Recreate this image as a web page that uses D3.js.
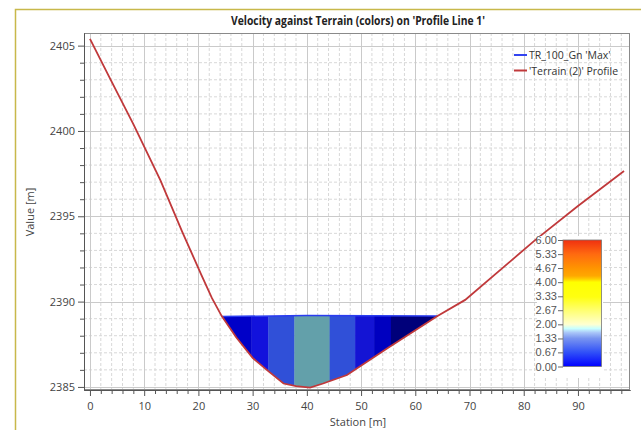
<!DOCTYPE html>
<html><head><meta charset="utf-8">
<script src="https://cdn.jsdelivr.net/npm/d3@7"></script>
<style>body{margin:0;background:#fff}svg{display:block}</style>
</head><body>
<svg id="c" width="641" height="430"></svg>
<script>
// ---- data ----
const title = "Velocity against Terrain (colors) on 'Profile Line 1'";
const xLabel = "Station [m]";
const yLabel = "Value [m]";
const xTicks = [0,10,20,30,40,50,60,70,80,90];
const yTicks = [2385,2390,2395,2400,2405];
const terrainStation = [0,3.5,8,13,17,20.5,22.5,24.3,27,30,33,35.7,38,40.6,43,47.4,55,64.1,69.2,82.1,90,98.5];
const terrainValue  = [2405.4,2403.2,2400.4,2397.1,2394.1,2391.6,2390.2,2389.15,2387.9,2386.7,2385.9,2385.2,2385.05,2384.96,2385.2,2385.7,2387.3,2389.16,2390.1,2393.6,2395.6,2397.65];
const wseStation = [24.3,40,64.1];
const wseValue = [2389.13,2389.18,2389.15];
const stripEdges = [24.3,29.8,32.9,37.7,44.2,48.9,52.4,55.5,64.1];
const stripColors = ["#0000c8","#1212dc","#3050d8","#63a0aa","#3050d8","#1414d4","#0000c0","#00007a"];
const legendNames = ["TR_100_Gn 'Max'","'Terrain (2)' Profile"];
const cbTicks = ["0.00","0.67","1.33","2.00","2.67","3.33","4.00","4.67","5.33","6.00"];
const cbValues = [0,0.67,1.33,2.0,2.67,3.33,4.0,4.67,5.33,6.0];
const cbStops = [[0,"#0000ff"],[0.67,"#3050f8"],[1.33,"#7894f0"],[1.6,"#a8c4f8"],[1.8,"#c8ffff"],[2.0,"#ffffd0"],[2.67,"#ffff70"],[3.3,"#ffff10"],[4.0,"#ffff00"],[4.15,"#ffcc00"],[4.3,"#ffa800"],[4.67,"#ff9400"],[5.33,"#ff6a10"],[6.0,"#f03010"]];

// ---- layout ----
const svg = d3.select("#c");
const L=84, R=630, T=33, B=390;
const x = d3.scaleLinear().domain([-1.1,99.6]).range([L,R]);
const y = d3.scaleLinear().domain([2384.82,2405.74]).range([B,T]);
const font = "'Open Sans', 'Noto Sans', sans-serif";

// outer border
svg.append("rect").attr("x",15.5).attr("y",9.5).attr("width",640).attr("height",430)
  .attr("fill","none").attr("stroke","#c8b84a").attr("stroke-width",1.5);

// title
svg.append("text").attr("x",358).attr("y",25).attr("text-anchor","middle")
  .attr("font-family",font).attr("font-weight","bold").attr("font-size",11.5).attr("fill","#222")
  .attr("textLength",254).attr("lengthAdjust","spacingAndGlyphs").text(title);

// grid
const g = svg.append("g");
const xMinor = d3.range(0,100,2).filter(v=>v%10!==0);
const yMinor = d3.range(2385,2406,1).filter(v=>v%5!==0);
g.selectAll(".xm").data(xMinor).join("line").attr("x1",d=>x(d)).attr("x2",d=>x(d)).attr("y1",T).attr("y2",B)
  .attr("stroke","#d8d8d8").attr("stroke-dasharray","3,2");
g.selectAll(".ym").data(yMinor).join("line").attr("y1",d=>y(d)).attr("y2",d=>y(d)).attr("x1",L).attr("x2",R)
  .attr("stroke","#d8d8d8").attr("stroke-dasharray","3,2");
g.selectAll(".xM").data(xTicks).join("line").attr("x1",d=>Math.round(x(d))+0.5).attr("x2",d=>Math.round(x(d))+0.5).attr("y1",T).attr("y2",B)
  .attr("stroke","#cacaca");
g.selectAll(".yM").data(yTicks).join("line").attr("y1",d=>Math.round(y(d))+0.5).attr("y2",d=>Math.round(y(d))+0.5).attr("x1",L).attr("x2",R)
  .attr("stroke","#cacaca");

// water strips
const terrain = terrainStation.map((s,i)=>[s,terrainValue[i]]);
const wse = wseStation.map((s,i)=>[s,wseValue[i]]);
const s0 = stripEdges[0], s1 = stripEdges[stripEdges.length-1];
const bottom = terrain.filter(p=>p[0]>=s0 && p[0]<=s1);
const poly = wse.concat(bottom.slice().reverse());
const defs = svg.append("defs");
defs.append("clipPath").attr("id","wclip").append("path")
  .attr("d", d3.line().x(d=>x(d[0])).y(d=>y(d[1]))(poly)+"Z");
const strips = d3.range(stripColors.length).map(i=>({a:stripEdges[i],b:stripEdges[i+1],c:stripColors[i]}));
svg.append("g").attr("clip-path","url(#wclip)").selectAll("rect").data(strips).join("rect")
  .attr("x",d=>x(d.a)).attr("width",d=>x(d.b)-x(d.a)+0.3).attr("y",T).attr("height",B-T)
  .attr("fill",d=>d.c);
// water surface line
svg.append("path").datum(wse).attr("d",d3.line().x(d=>x(d[0])).y(d=>y(d[1])))
  .attr("fill","none").attr("stroke","#2a3cf0").attr("stroke-width",1.5);
// terrain
svg.append("path").datum(terrain).attr("d",d3.line().x(d=>x(d[0])).y(d=>y(d[1])))
  .attr("fill","none").attr("stroke","#c0393b").attr("stroke-width",1.8);

// frame
svg.append("rect").attr("x",L+0.5).attr("y",T+0.5).attr("width",R-L-1).attr("height",B-T-1)
  .attr("fill","none").attr("stroke","#8a8a8a");

// axes
const axStyle = sel=>{sel.selectAll("path").attr("stroke","#555");sel.selectAll("line").attr("stroke","#555");
  sel.selectAll("text").attr("font-family",font).attr("font-size",11).attr("fill","#444");};
const ya = svg.append("g").attr("transform",`translate(${L},0)`)
  .call(d3.axisLeft(y).tickValues(yTicks).tickFormat(d3.format("d")).tickSize(6).tickSizeOuter(0).tickPadding(3));
svg.append("g").attr("transform",`translate(${L},0)`).call(d3.axisLeft(y).tickValues(yMinor).tickFormat("").tickSize(4).tickSizeOuter(0)).call(axStyle);
axStyle(ya);
const xa = svg.append("g").attr("transform",`translate(0,${B})`)
  .call(d3.axisBottom(x).tickValues(xTicks).tickSize(6).tickSizeOuter(0).tickPadding(6));
svg.append("g").attr("transform",`translate(0,${B})`).call(d3.axisBottom(x).tickValues(xMinor).tickFormat("").tickSize(4).tickSizeOuter(0)).call(axStyle);
axStyle(xa);

svg.append("text").attr("x",358).attr("y",426).attr("text-anchor","middle")
  .attr("font-family",font).attr("font-size",11).attr("fill","#444").text(xLabel);
svg.append("text").attr("transform","translate(34,212) rotate(-90)").attr("text-anchor","middle")
  .attr("font-family",font).attr("font-size",11).attr("fill","#444").text(yLabel);

// legend
const lg = svg.append("g");
const lcol = ["#3344f0","#c0393b"];
legendNames.forEach((n,i)=>{
  lg.append("line").attr("x1",514).attr("x2",527).attr("y1",55+i*15.5).attr("y2",55+i*15.5)
    .attr("stroke",lcol[i]).attr("stroke-width",2);
  lg.append("text").attr("x",529).attr("y",59+i*15.5).attr("font-family",font).attr("font-size",10.5)
    .attr("fill","#333").text(n);
});

// color bar
const cbX=563, cbW=38.5, cbTop=240, cbBot=366.5;
const cy = d3.scaleLinear().domain([0,6]).range([cbBot,cbTop]);
svg.append("rect").attr("x",537).attr("y",236).attr("width",66).attr("height",142).attr("fill","#fff");
const grad = defs.append("linearGradient").attr("id","cbg").attr("x1",0).attr("x2",0).attr("y1",1).attr("y2",0);
grad.selectAll("stop").data(cbStops).join("stop").attr("offset",d=>d[0]/6).attr("stop-color",d=>d[1]);
svg.append("rect").attr("x",cbX).attr("y",cbTop).attr("width",cbW).attr("height",cbBot-cbTop)
  .attr("fill","url(#cbg)").attr("stroke","#777").attr("stroke-width",0.8);
const cba = svg.append("g").attr("transform",`translate(${cbX},0)`)
  .call(d3.axisLeft(cy).tickValues(cbValues).tickFormat((d,i)=>cbTicks[i]).tickSize(5).tickSizeOuter(0).tickPadding(1));
cba.select("path").remove();
cba.selectAll("line").attr("stroke","#666");
cba.selectAll("text").attr("font-family","'Liberation Sans Narrow','Liberation Sans',sans-serif").attr("font-size",11).attr("fill","#555");
</script>
</body></html>
